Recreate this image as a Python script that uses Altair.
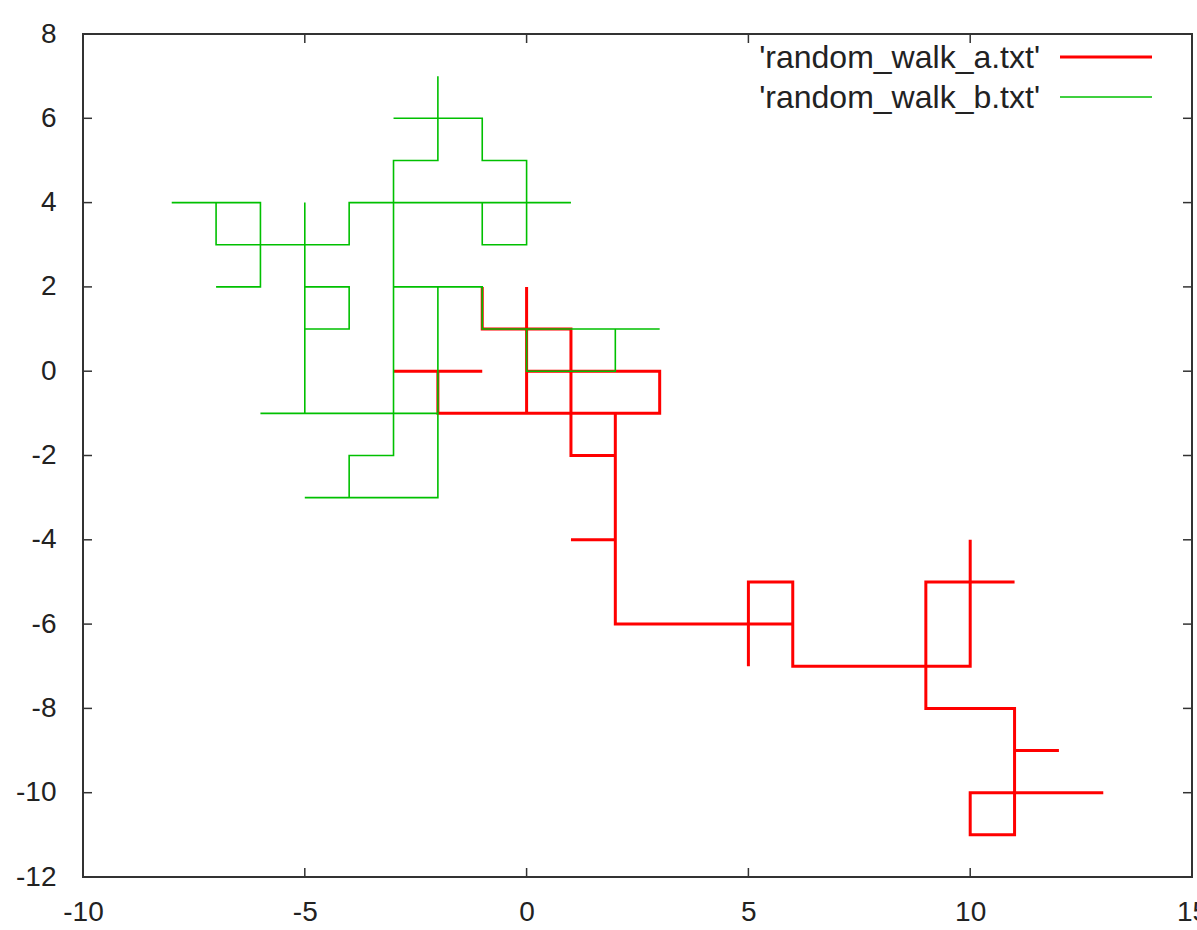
import altair as alt
import pandas as pd

series_names = ["'random_walk_a.txt'", "'random_walk_b.txt'"]
series_colors = ["#ff0000", "#00c000"]
series_widths = [3.0, 1.6]

a_x = [0, 0, 0, 0, -1, -1, -1, 0, 1, 1,
       0, 0, -1, -2, -2, -3, -2, -1, -2, -2,
       -1, 0, 1, 2, 3, 3, 2, 1, 1, 1,
       2, 2, 2, 2, 2, 1, 2, 2, 2, 3,
       4, 5, 5, 5, 5, 6, 6, 5, 6, 6,
       7, 8, 9, 10, 10, 10, 10, 10, 11, 10,
       9, 9, 9, 9, 10, 11, 11, 12, 11, 11,
       10, 10, 11, 11, 12, 13]
a_y = [0, 1, 2, 1, 1, 2, 1, 1, 1, 0,
       0, -1, -1, -1, 0, 0, 0, 0, 0, -1,
       -1, -1, -1, -1, -1, 0, 0, 0, -1, -2,
       -2, -1, -2, -3, -4, -4, -4, -5, -6, -6,
       -6, -6, -7, -6, -5, -5, -6, -6, -6, -7,
       -7, -7, -7, -7, -6, -5, -4, -5, -5, -5,
       -5, -6, -7, -8, -8, -8, -9, -9, -9, -10,
       -10, -11, -11, -10, -10, -10]

b_x = [0, 0, 1, 2, 3, 2, 2, 1, 0, 0,
       -1, -1, -2, -3, -3, -3, -3, -3, -4, -4,
       -5, -4, -3, -2, -2, -2, -3, -4, -5, -6,
       -5, -5, -5, -5, -4, -4, -5, -5, -5, -6,
       -7, -7, -8, -7, -6, -6, -6, -7, -6, -6,
       -5, -5, -5, -4, -4, -3, -3, -2, -2, -2,
       -2, -3, -2, -1, -1, 0, 0, 0, -1, -1,
       0, 1, 0, -1, -2, -3, -3, -3, -2, -2,
       -2, -2]
b_y = [0, 1, 1, 1, 1, 1, 0, 0, 0, 1,
       1, 2, 2, 2, 1, 0, -1, -2, -2, -3,
       -3, -3, -3, -3, -2, -1, -1, -1, -1, -1,
       -1, 0, 1, 2, 2, 1, 1, 2, 3, 3,
       3, 4, 4, 4, 4, 3, 2, 2, 2, 3,
       3, 4, 3, 3, 4, 4, 5, 5, 6, 7,
       6, 6, 6, 6, 5, 5, 4, 3, 3, 4,
       4, 4, 4, 4, 4, 4, 3, 2, 2, 1,
       0, -1]

x_ticks = [-10, -5, 0, 5, 10, 15]
y_ticks = [-12, -10, -8, -6, -4, -2, 0, 2, 4, 6, 8]

rows = []
for name, xs, ys in zip(series_names, [a_x, b_x], [a_y, b_y]):
    for i, (xv, yv) in enumerate(zip(xs, ys)):
        rows.append({"series": name, "step": i, "x": xv, "y": yv})
df = pd.DataFrame(rows)

W, H = 1109, 843
FONT = "Liberation Sans"
FRAME = "#333333"
TEXT = "#222222"

xscale = alt.Scale(domain=[-10, 15], nice=False, zero=False)
yscale = alt.Scale(domain=[-12, 8], nice=False, zero=False)
cscale = alt.Scale(domain=series_names, range=series_colors)
wscale = alt.Scale(domain=series_names, range=series_widths)

xaxis = alt.Axis(values=x_ticks, ticks=False, domain=False, grid=False, title=None,
                 labelExpr="'' + datum.value",
                 labelFontSize=28, labelFont=FONT, labelColor=TEXT,
                 labelPadding=21, labelFlush=False, labelOverlap=False, labelBound=False)
yaxis = alt.Axis(values=y_ticks, ticks=False, domain=False, grid=False, title=None,
                 labelExpr="'' + datum.value",
                 labelFontSize=28, labelFont=FONT, labelColor=TEXT,
                 labelPadding=27, labelOverlap=False, labelBound=False)

lines = alt.Chart(df).mark_line(strokeCap="butt", strokeJoin="miter").encode(
    x=alt.X("x:Q", scale=xscale, axis=xaxis),
    y=alt.Y("y:Q", scale=yscale, axis=yaxis),
    color=alt.Color("series:N", scale=cscale, legend=None),
    strokeWidth=alt.StrokeWidth("series:N", scale=wscale, legend=None),
    order=alt.Order("step:Q"),
)

xt = pd.DataFrame({"t": x_ticks})
yt = pd.DataFrame({"t": y_ticks})
TL = 9
tick_style = dict(color=FRAME, strokeWidth=1.5)
bottom_ticks = alt.Chart(xt).mark_rule(**tick_style).encode(
    x=alt.X("t:Q", scale=xscale), y=alt.value(H), y2=alt.value(H - TL))
top_ticks = alt.Chart(xt).mark_rule(**tick_style).encode(
    x=alt.X("t:Q", scale=xscale), y=alt.value(0), y2=alt.value(TL))
left_ticks = alt.Chart(yt).mark_rule(**tick_style).encode(
    y=alt.Y("t:Q", scale=yscale), x=alt.value(0), x2=alt.value(TL))
right_ticks = alt.Chart(yt).mark_rule(**tick_style).encode(
    y=alt.Y("t:Q", scale=yscale), x=alt.value(W), x2=alt.value(W - TL))

# key (gnuplot style: label on the left, line sample on the right)
key_layers = []
for i, name in enumerate(series_names):
    kd = pd.DataFrame({"series": [name]})
    ky = 23 + 40 * i
    key_layers.append(alt.Chart(kd).mark_text(
        align="right", baseline="middle", font=FONT, fontSize=32, color=TEXT
    ).encode(text="series:N", x=alt.value(957), y=alt.value(ky + 1)))
    key_layers.append(alt.Chart(kd).mark_rule(strokeCap="butt").encode(
        x=alt.value(977), x2=alt.value(1069), y=alt.value(ky),
        color=alt.Color("series:N", scale=cscale, legend=None),
        strokeWidth=alt.StrokeWidth("series:N", scale=wscale, legend=None)))

chart = alt.layer(bottom_ticks, top_ticks, left_ticks, right_ticks, lines, *key_layers).properties(
    width=W, height=H,
    padding={"left": 83, "top": 34, "right": 5, "bottom": 53},
    autosize=alt.AutoSizeParams(type="none"),
    background="white",
).configure_view(
    stroke=FRAME, strokeWidth=2
)

chart.save("out.html", embed_options={"renderer": "svg", "actions": False})
